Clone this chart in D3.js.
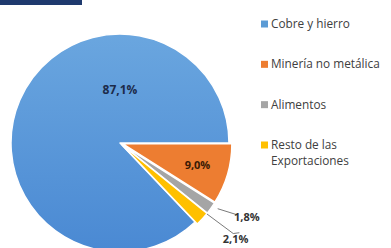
<!DOCTYPE html>
<html>
  <head>
    <meta charset="utf-8">
    <title>Exportaciones</title>
    <script src="https://d3js.org/d3.v7.min.js"></script>
    <style>
      body { margin: 0; background: #fff; }
      svg { display: block; }
      .legend text { font-family: "Open Sans", sans-serif; font-size: 11.8px; fill: #404040; }
      .pct { font-family: "Open Sans", sans-serif; font-size: 11px; font-weight: bold; }
    </style>
  </head>
  <body>
    <svg id="chart" width="391" height="248"></svg>
    <script>
      // data
      var categories = ["Cobre y hierro", "Minería no metálica", "Alimentos", "Resto de las Exportaciones"];
      var shares = [87.1, 9.0, 1.8, 2.1];
      var labels = ["87,1%", "9,0%", "1,8%", "2,1%"];
      var colours = ["url(#blueFill)", "#ED7D31", "#A5A5A5", "#FFC000"];
      var swatches = ["#5B9BD5", "#ED7D31", "#A5A5A5", "#FFC000"];
      var exploded = [false, true, true, true];

      var width = 391, height = 248;
      var cx = 120, cy = 143, radius = 109;
      var svg = d3.select("#chart");

      var grad = svg.append("defs").append("linearGradient")
        .attr("id", "blueFill")
        .attr("x1", 0).attr("x2", 0).attr("y1", 0).attr("y2", 1);
      grad.append("stop").attr("offset", "0%").attr("stop-color", "#6aa6df");
      grad.append("stop").attr("offset", "100%").attr("stop-color", "#4a89d3");

      // header bar
      svg.append("rect")
        .attr("x", 0).attr("y", 0)
        .attr("width", 82).attr("height", 5)
        .attr("fill", "#1f3a6e");

      // blue slice starts where the small ones end, so the orange one begins at 3 o'clock
      var startAngle = Math.PI / 2 + 2 * Math.PI * (1 - shares[0] / 100);
      var pie = d3.pie()
        .sort(null)
        .startAngle(startAngle)
        .endAngle(startAngle + 2 * Math.PI);
      var arcs = pie(shares);
      var arc = d3.arc().innerRadius(0).outerRadius(radius);

      var pieGroup = svg.append("g")
        .attr("transform", "translate(" + cx + "," + cy + ")");

      function offset(d, i) {
        if (!exploded[i]) return [0, 0];
        var a = (d.startAngle + d.endAngle) / 2;
        return [Math.sin(a) * 3, -Math.cos(a) * 3];
      }

      pieGroup.selectAll(".slice")
          .data(arcs)
        .enter().append("path")
          .attr("class", "slice")
          .attr("d", arc)
          .attr("transform", function(d, i) { return "translate(" + offset(d, i) + ")"; })
          .attr("fill", function(d, i) { return colours[i]; })
          .attr("stroke", "#fff")
          .attr("stroke-width", 1.5)
          .attr("stroke-linejoin", "round");

      // labels
      function polar(angle, r) { return [Math.sin(angle) * r, -Math.cos(angle) * r]; }
      var mid = arcs.map(function(d) { return (d.startAngle + d.endAngle) / 2; });

      // big slice label sits at the top, orange one inside, small ones outside with leaders
      var labelPos = [
        polar(2 * Math.PI, radius * 0.49),
        polar(mid[1], radius * 0.74),
        polar(mid[2] - 0.09, radius * 1.35),
        polar(mid[3] - 0.05, radius * 1.38)
      ];
      var labelFill = ["#1c2b4a", "#3a1a05", "#333", "#333"];
      var labelSize = ["12px", "11px", "11px", "11px"];

      // leader lines
      var leaders = [
        null,
        null,
        [polar(mid[2] - 0.03, radius * 1.08), polar(mid[2] - 0.07, radius * 1.25)],
        [polar(mid[3] - 0.06, radius * 1.03), polar(mid[3] - 0.07, radius * 1.33), polar(mid[3] - 0.1, radius * 1.37)]
      ];
      pieGroup.selectAll(".leader")
          .data(leaders.filter(function(d) { return d; }))
        .enter().append("path")
          .attr("class", "leader")
          .attr("d", d3.line())
          .attr("fill", "none")
          .attr("stroke", "#7a7a7a")
          .attr("stroke-width", 1);

      pieGroup.selectAll(".pct")
          .data(labels)
        .enter().append("text")
          .attr("class", "pct")
          .attr("x", function(d, i) { return labelPos[i][0]; })
          .attr("y", function(d, i) { return labelPos[i][1]; })
          .attr("dy", "0.35em")
          .attr("text-anchor", "middle")
          .attr("fill", function(d, i) { return labelFill[i]; })
          .style("font-size", function(d, i) { return labelSize[i]; })
          .text(function(d) { return d; });

      // legend
      var legendY = d3.scalePoint()
        .domain(categories)
        .range([24, 145]);
      var legend = svg.append("g").attr("class", "legend");
      var rows = legend.selectAll("g")
          .data(categories)
        .enter().append("g")
          .attr("transform", function(d) { return "translate(261," + legendY(d) + ")"; });
      rows.append("rect")
        .attr("x", 0).attr("y", -3.5)
        .attr("width", 7).attr("height", 7)
        .attr("fill", function(d, i) { return swatches[i]; });
      rows.append("text")
        .attr("x", 10)
        .attr("y", 0)
        .each(function(d) {
          var words = d === "Resto de las Exportaciones" ? ["Resto de las", "Exportaciones"] : [d];
          var t = d3.select(this);
          words.forEach(function(w, j) {
            t.append("tspan")
              .attr("x", 10)
              .attr("dy", j === 0 ? "0.35em" : "1.35em")
              .text(w);
          });
        });
    </script>
  </body>
</html>
